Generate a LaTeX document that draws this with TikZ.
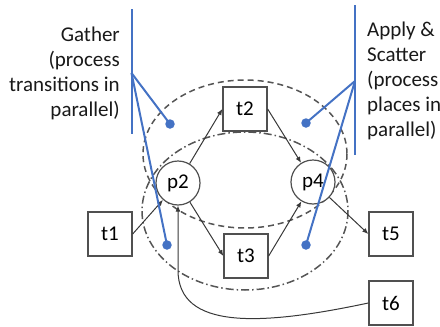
\documentclass[tikz,border=0pt]{standalone}
\usepackage{fontspec}
\setmainfont{Carlito}
\usetikzlibrary{arrows.meta}
\definecolor{edgegray}{HTML}{383838}
\definecolor{boxgray}{HTML}{505050}
\definecolor{ringgray}{HTML}{555555}
\definecolor{callout}{HTML}{4472C4}
\tikzset{
  trans/.style={draw=boxgray, line width=1.3pt, fill=white, rectangle,
    minimum width=44pt, minimum height=44pt, inner sep=0pt,
    font=\fontsize{21}{25}\selectfont},
  place/.style={draw=boxgray, line width=1.2pt, fill=white, circle,
    minimum size=44pt, inner sep=0pt, font=\fontsize{21}{25}\selectfont},
  arr/.style={draw=edgegray, line width=1pt, -{Latex[length=6pt,width=5pt]}},
  gatherring/.style={draw=ringgray, line width=1.5pt, dash pattern=on 6pt off 4pt},
  applyring/.style={draw=ringgray, line width=1.5pt,
    dash pattern=on 8pt off 3pt on 1.5pt off 3pt},
  bluel/.style={draw=callout, line width=2pt},
  bluedot/.style={circle, fill=callout, minimum size=9.5pt, inner sep=0pt},
  caption/.style={font=\fontsize{21}{25}\selectfont, inner sep=0pt, text=black!90}
}
\begin{document}
\begin{tikzpicture}[x=1pt, y=-1pt]
\useasboundingbox (0,0) rectangle (440,327);

% the two groups: transitions (dashed) and places (dash-dot)
\draw[gatherring] (245,154) ellipse [x radius=102, y radius=74];
\draw[applyring] (245,211) ellipse [x radius=103, y radius=79];

% Petri net nodes
\node[trans] (t1) at (110,234) {t1};
\node[trans] (t2) at (245,109) {t2};
\node[trans] (t3) at (246,256) {t3};
\node[trans] (t5) at (391,234) {t5};
\node[trans] (t6) at (391,303) {t6};
\node[place] (p2) at (178,183) {p2};
\node[place] (p4) at (313,182) {p4};

% arcs
\draw[arr] (t1.east) -- (p2);
\draw[arr] (p2) -- (t2.west);
\draw[arr] (p2) -- (t3.west);
\draw[arr] (t2.east) -- (p4);
\draw[arr] (t3.east) -- (p4);
\draw[arr] (p4) -- (t5.west);
\draw[arr] (t6.west) .. controls (260,326) and (178,330) .. (178,270) -- (p2.south);

% captions (a multi-line node sits on the baseline of its last line)
\node[caption, anchor=base east, align=right] (gather) at (120,116)
  {Gather\\(process\\transitions in\\parallel)};
\node[caption, anchor=base west, align=left] (apply) at (367,136)
  {Apply \&\\Scatter\\(process\\places in\\parallel)};

% callout brackets
\coordinate (gtop) at (131.5,9);
\coordinate (gbot) at (131.5,134);
\coordinate (gfork) at (131.5,73);
\coordinate (atop) at (355,5);
\coordinate (abot) at (355,155);
\coordinate (afork) at (355,81);
\node[bluedot] (gd1) at (170,124) {};
\node[bluedot] (gd2) at (167,245) {};
\node[bluedot] (ad1) at (306,123) {};
\node[bluedot] (ad2) at (306,245) {};
\draw[bluel] (gtop) -- (gbot);
\draw[bluel] (gfork) -- (gd1.center);
\draw[bluel] (gfork) -- (gd2.center);
\draw[bluel] (atop) -- (abot);
\draw[bluel] (afork) -- (ad1.center);
\draw[bluel] (afork) -- (ad2.center);
\end{tikzpicture}
\end{document}
